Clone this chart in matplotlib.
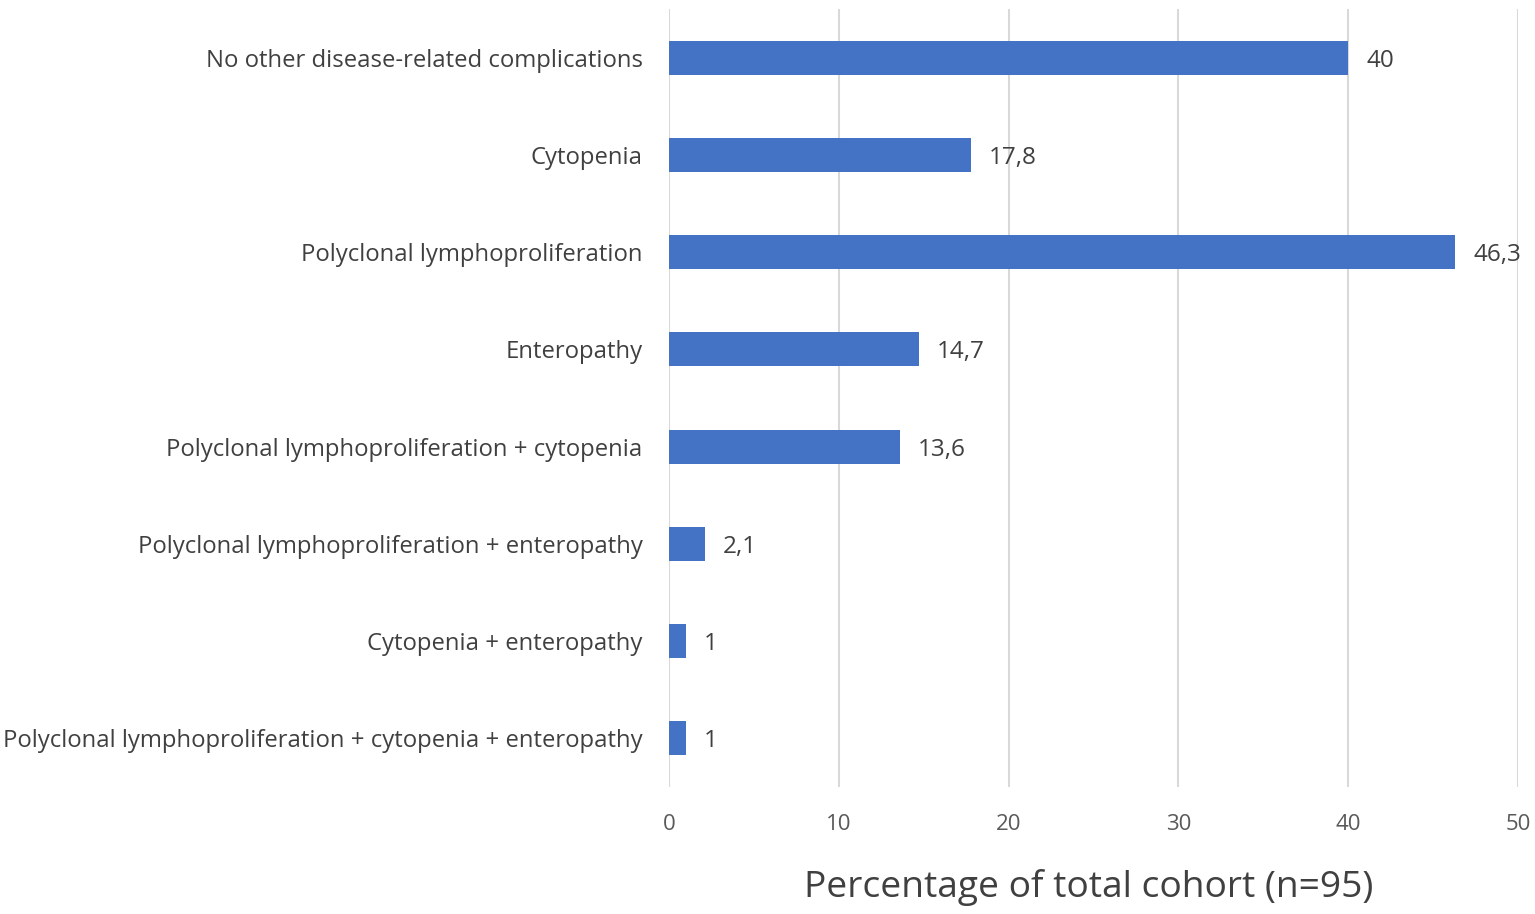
import matplotlib.pyplot as plt
import numpy as np

categories = [
    "No other disease-related complications",
    "Cytopenia",
    "Polyclonal lymphoproliferation",
    "Enteropathy",
    "Polyclonal lymphoproliferation + cytopenia",
    "Polyclonal lymphoproliferation + enteropathy",
    "Cytopenia + enteropathy",
    "Polyclonal lymphoproliferation + cytopenia + enteropathy",
]
values = [40, 17.8, 46.3, 14.7, 13.6, 2.1, 1, 1]
x_ticks = [0, 10, 20, 30, 40, 50]


def main():
    plt.rcParams['font.family'] = ['Open Sans', 'DejaVu Sans']
    fig = plt.figure(figsize=(15.35, 9.14), dpi=100)
    ax = fig.add_axes([0.4358, 0.1394, 0.5532, 0.8503])

    y = np.arange(len(categories))
    ax.barh(y, values, height=0.35, color="#4472C4", zorder=3)
    for yi, v in zip(y, values):
        ax.text(v + 1.05, yi, "{:g}".format(v).replace(".", ","), va="center_baseline", ha="left",
                fontsize=17.5, color="#404040")

    ax.set_ylim(len(categories) - 0.5, -0.5)
    ax.set_xlim(0, 50)
    ax.set_yticks(y)
    ax.set_yticklabels(categories, fontsize=17.2, color="#404040")
    ax.set_xticks(x_ticks)
    ax.set_xticklabels([str(t) for t in x_ticks], fontsize=16, color="#595959")
    ax.tick_params(axis="y", length=0, pad=19)
    ax.tick_params(axis="x", length=0, pad=20)
    ax.grid(axis="x", color="#d9d9d9", linewidth=1.5, zorder=0)
    for s in ax.spines.values():
        s.set_visible(False)
    ax.set_xlabel("Percentage of total cohort (n=95)", fontsize=26.7, color="#404040", labelpad=24)
    ax.xaxis.label.set_x(0.494)

    plt.savefig("out.png", dpi=100)
    plt.close()


main()
